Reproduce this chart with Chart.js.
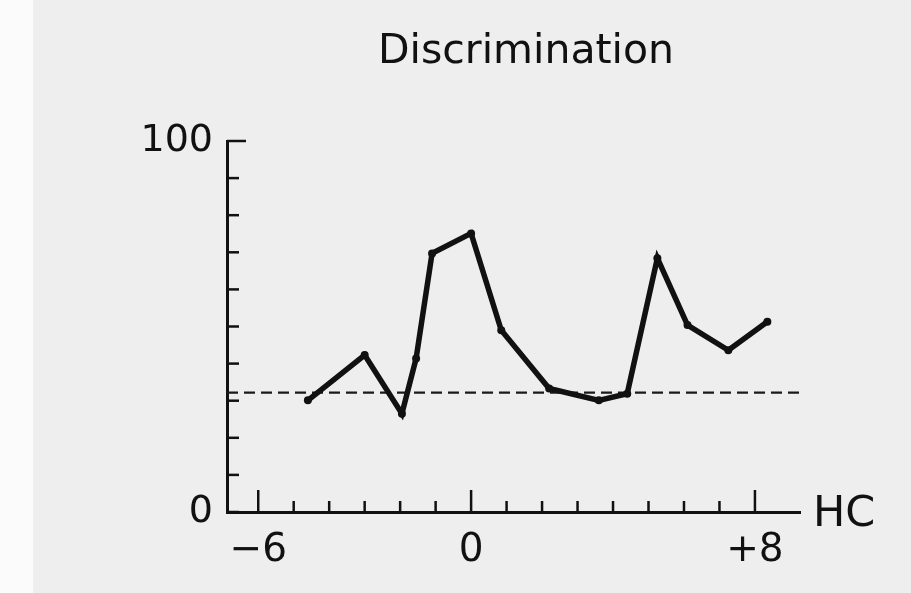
<!DOCTYPE html>
<html lang="en">
<head>
    <meta charset="UTF-8">
    <title>Discrimination</title>
    <script src="https://cdn.jsdelivr.net/npm/chart.js"></script>
    <style>
        body { margin: 0; background: linear-gradient(to right, #fbfbfb 0, #fbfbfb 33px, #eeeeee 33px); }
        canvas { display: block; }
    </style>
</head>
<body>
<canvas id="grafico" width="911" height="593"></canvas>

<script>
    // Datos
    const hcValues = [-4.6, -3.0, -1.95, -1.55, -1.1, 0, 0.85, 2.2, 3.6, 4.4, 5.25, 6.1, 7.25, 8.35];
    const discrimination = [30.1, 42.3, 26.5, 41.4, 69.7, 75.1, 49.0, 33.3, 30.1, 31.9, 68.4, 50.4, 43.6, 51.3];
    const chanceLevel = 32.2;

    const xTicks = [-6, -5, -4, -3, -2, -1, 0, 1, 2, 3, 4, 5, 6, 7, 8];
    const xTickLabels = { '-6': '\u22126', '0': '0', '8': '+8' };
    const xMajor = [-6, 0, 8];
    const yTickLabels = { '0': '0', '100': '100' };
    const xMin = -6.88, xMax = 9.27;

    const titulo = 'Discrimination';
    const ejeX = 'HC';
    const fuente = 'DejaVu Sans';
    const tinta = '#111';

    // Marcas de escala hacia dentro, titulo y etiqueta HC
    const marcasInternas = {
        id: 'marcasInternas',
        afterDraw(chart) {
            const { ctx, chartArea, scales } = chart;
            ctx.save();
            ctx.strokeStyle = tinta;
            ctx.lineWidth = 2.5;
            scales.y.ticks.forEach(t => {
                const y = scales.y.getPixelForValue(t.value);
                const len = t.value === 100 ? 19 : 12;
                ctx.beginPath();
                ctx.moveTo(chartArea.left, y);
                ctx.lineTo(chartArea.left + len, y);
                ctx.stroke();
            });
            scales.x.ticks.forEach(t => {
                const x = scales.x.getPixelForValue(t.value);
                const len = xMajor.includes(t.value) ? 22 : 11;
                ctx.beginPath();
                ctx.moveTo(x, chartArea.bottom);
                ctx.lineTo(x, chartArea.bottom - len);
                ctx.stroke();
            });
            ctx.fillStyle = tinta;
            ctx.font = `43px "${fuente}"`;
            ctx.textBaseline = 'alphabetic';
            ctx.textAlign = 'left';
            ctx.fillText(ejeX, chartArea.right + 13, chartArea.bottom + 14);

            ctx.font = `41px "${fuente}"`;
            ctx.textAlign = 'center';
            ctx.fillText(titulo, 526, 63);
            ctx.restore();
        }
    };

    const ctx = document.getElementById('grafico').getContext('2d');
    const chart = new Chart(ctx, {
        type: 'line',
        data: {
            datasets: [
                {
                    label: titulo,
                    data: hcValues.map((x, i) => ({ x: x, y: discrimination[i] })),
                    borderColor: tinta,
                    backgroundColor: tinta,
                    borderWidth: 5.5,
                    pointRadius: 4,
                    pointBorderWidth: 0,
                    tension: 0
                },
                {
                    label: 'chance',
                    data: [{ x: xMin, y: chanceLevel }, { x: xMax, y: chanceLevel }],
                    borderColor: '#1a1a1a',
                    borderWidth: 2.2,
                    borderDash: [11, 6],
                    pointRadius: 0
                }
            ]
        },
        plugins: [marcasInternas],
        options: {
            responsive: false,
            animation: false,
            layout: { padding: { left: 0, right: 111, top: 141, bottom: 0 } },
            plugins: {
                legend: { display: false },
                tooltip: { enabled: false },
                title: { display: false }
            },
            scales: {
                x: {
                    type: 'linear',
                    min: xMin,
                    max: xMax,
                    afterBuildTicks: s => { s.ticks = xTicks.map(v => ({ value: v })); },
                    afterFit: s => { s.height = 81; },
                    grid: { display: false, drawTicks: false },
                    border: { display: true, color: tinta, width: 3 },
                    ticks: {
                        autoSkip: false,
                        maxRotation: 0,
                        padding: 15,
                        color: tinta,
                        font: { family: fuente, size: 39 },
                        callback: v => xTickLabels[String(v)] || ''
                    }
                },
                y: {
                    min: 0,
                    max: 100,
                    afterFit: s => { s.width = 227; },
                    grid: { display: false, drawTicks: false },
                    border: { display: true, color: tinta, width: 3 },
                    ticks: {
                        stepSize: 10,
                        autoSkip: false,
                        padding: 14,
                        color: tinta,
                        font: { family: fuente, size: 38 },
                        callback: v => yTickLabels[String(v)] || ''
                    }
                }
            }
        }
    });
</script>
</body>
</html>
